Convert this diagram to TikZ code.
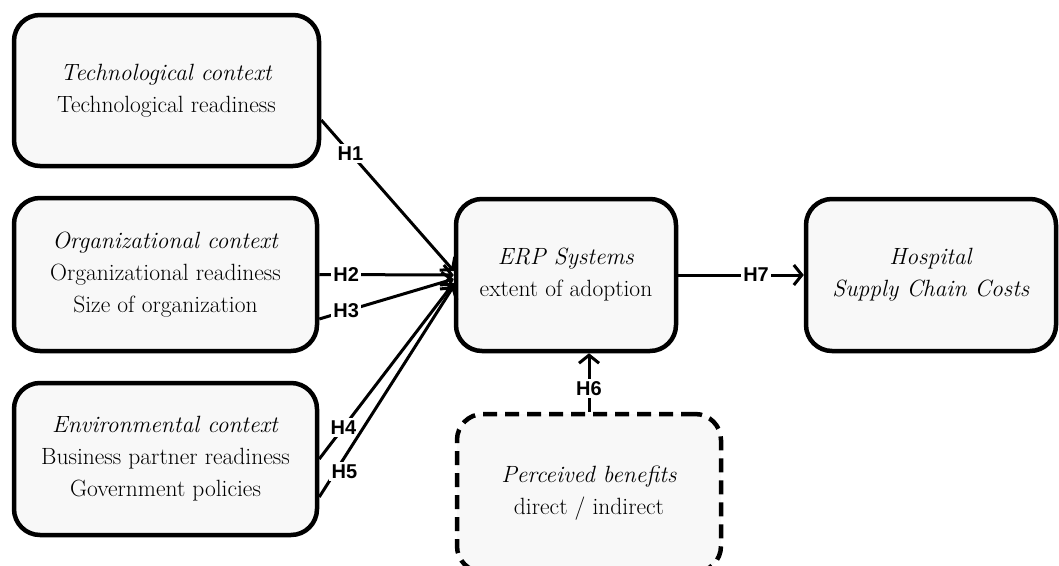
\documentclass[tikz,border=0pt]{standalone}
\usepackage{fontspec}
\newfontfamily\hfont{Liberation Sans}
\usetikzlibrary{shapes,arrows.meta,positioning}
\definecolor{boxgray}{HTML}{F8F8F8}
\tikzstyle{box} = [draw, rounded corners=26pt, line width=4.5pt, fill=boxgray, align=center, inner sep=0pt, font=\fontsize{23.5}{32}\selectfont]
\tikzstyle{dashbox} = [box, dash pattern=on 14pt off 8pt]
\tikzstyle{line} = [draw, -{Straight Barb[length=8pt,width=20pt]}, line width=3pt]
\tikzstyle{hyp} = [fill=white, inner sep=2.5pt, font=\hfont\bfseries\fontsize{20}{20}\selectfont]

\begin{document}
\begin{tikzpicture}[x=1pt, y=-1pt]

\useasboundingbox (0,0) rectangle (1059,565);

\node [box, minimum width=305pt, minimum height=151pt] (tech) at (166.5,90.5)
  {\textit{Technological context}\\Technological readiness};
\node [box, minimum width=303pt, minimum height=153pt] (org) at (165.5,274.5)
  {\textit{Organizational context}\\Organizational readiness\\Size of organization};
\node [box, minimum width=303pt, minimum height=152pt] (env) at (165.5,459)
  {\textit{Environmental context}\\Business partner readiness\\Government policies};
\node [box, minimum width=220pt, minimum height=152pt] (erp) at (566,275)
  {\textit{ERP Systems}\\extent of adoption};
\node [box, minimum width=250pt, minimum height=152pt] (hosp) at (931,275)
  {\textit{Hospital}\\\textit{Supply Chain Costs}};
\node [dashbox, minimum width=264pt, minimum height=158pt] (perc) at (589,493)
  {\textit{Perceived benefits}\\direct / indirect};

\draw[line] ([yshift=-29.5pt]tech.east) -- node[hyp, pos=0.22] {H1} ([yshift=4pt]erp.west);
\draw[line] (org.east) -- node[hyp, pos=0.2] {H2} (erp.west);
\draw[line] ([yshift=-44.5pt]org.east) -- node[hyp, pos=0.2] {H3} ([yshift=-4pt]erp.west);
\draw[line] (env.east) -- node[hyp, pos=0.18] {H4} ([yshift=-8pt]erp.west);
\draw[line] ([yshift=-38pt]env.east) -- node[hyp, pos=0.12, xshift=9pt] {H5} ([yshift=-11pt]erp.west);
\draw[line] (perc.north) -- node[hyp, pos=0.4] {H6} (perc.north |- erp.south);
\draw[line] (erp.east) -- node[hyp, pos=0.62] {H7} (hosp.west);

\end{tikzpicture}
\end{document}
